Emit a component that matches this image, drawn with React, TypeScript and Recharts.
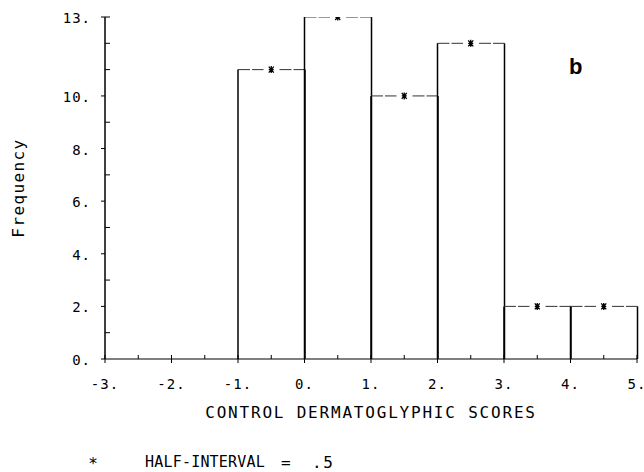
import React from "react";
import { Bar, ComposedChart, Scatter, XAxis, YAxis } from "recharts";

// histogram bins (left edge label) and frequencies
const binEdges = ["-3", "-2", "-1", "0", "1", "2", "3", "4"];
const binCounts = [0, 0, 11, 13, 10, 12, 2, 2];
const binMids = [-2.5, -1.5, -0.5, 0.5, 1.5, 2.5, 3.5, 4.5];

const xLabelTicks = [-3, -2, -1, 0, 1, 2, 3, 4, 5];
const xHalfTicks = [-2.5, -1.5, -0.5, 0.5, 1.5, 2.5, 3.5, 4.5];
const yLabelTicks = [0, 2, 4, 6, 8, 10, 13];
const yMinorTicks = [1, 3, 5, 7, 9, 11, 12];

const bins = binEdges.map((b, i) => ({ bin: b, count: binCounts[i] }));
const mids = binMids
  .map((m, i) => ({ mid: m, count: binCounts[i] }))
  .filter((d) => d.count > 0);

const FONT = "'DejaVu Sans Mono', monospace";

const BinShape = (props: any) => {
  const { x, y, width, height, payload } = props;
  if (!payload || payload.count === 0) return null;
  const cx = x + width / 2;
  return (
    <g>
      <line x1={x} y1={y} x2={x} y2={y + height} stroke="#000" strokeWidth={1.5} />
      <line x1={x + width} y1={y} x2={x + width} y2={y + height} stroke="#000" strokeWidth={1.5} />
      <line x1={x} y1={y} x2={cx - 8} y2={y} stroke="#333" strokeWidth={1} strokeDasharray="12 2" />
      <line x1={cx + 8} y1={y} x2={x + width} y2={y} stroke="#333" strokeWidth={1} strokeDasharray="12 2" />
    </g>
  );
};

const Star = (props: any) => {
  const { cx, cy } = props;
  return (
    <path
      d={`M${cx},${cy - 3.5}L${cx},${cy + 3.5}M${cx - 2.5},${cy - 3}L${cx + 2.5},${cy + 3}M${cx + 2.5},${cy - 3}L${cx - 2.5},${cy + 3}M${cx - 2.5},${cy}L${cx + 2.5},${cy}`}
      stroke="#000"
      strokeWidth={1.3}
      fill="none"
    />
  );
};

const YTick = (props: any) => {
  const { x, y, payload } = props;
  const v = payload.value;
  if (yMinorTicks.includes(v)) {
    return <line x1={x} y1={y} x2={x + 5} y2={y} stroke="#000" />;
  }
  return (
    <g>
      <line x1={x - 4} y1={y} x2={v === 13 ? x + 5 : x} y2={y} stroke="#000" />
      <text x={x - 14} y={y + 1} textAnchor="end" dominantBaseline="central" fontFamily={FONT} fontSize={14} letterSpacing={1} fill="#000">
        {`${v}.`}
      </text>
    </g>
  );
};

const XTick = (props: any) => {
  const { x, y, payload } = props;
  const v = payload.value;
  if (xHalfTicks.includes(v)) {
    return <line x1={x} y1={y - 4} x2={x} y2={y} stroke="#000" />;
  }
  return (
    <g>
      <line x1={x} y1={y - 4} x2={x} y2={y + 4} stroke="#000" />
      <text x={x} y={y + 25} textAnchor="middle" dominantBaseline="central" fontFamily={FONT} fontSize={14} letterSpacing={1} fill="#000">
        {`${v}.`}
      </text>
    </g>
  );
};

const allX = [...xLabelTicks, ...xHalfTicks].sort((a, b) => a - b);
const allY = [...yLabelTicks, ...yMinorTicks].sort((a, b) => a - b);

export default function App() {
  return (
    <div style={{ position: "absolute", left: 0, top: 0, width: 644, height: 472, background: "#fff" }}>
      <ComposedChart
        width={644}
        height={472}
        data={bins}
        margin={{ top: 17, right: 7, left: 45, bottom: 73 }}
        barCategoryGap={0}
        barGap={0}
      >
        <XAxis xAxisId="bins" dataKey="bin" type="category" hide height={0} orientation="top" />
        <XAxis
          xAxisId="num"
          dataKey="mid"
          type="number"
          domain={[-3, 5]}
          ticks={allX}
          interval={0}
          height={40}
          tickSize={0}
          tickMargin={0}
          tickLine={false}
          axisLine={{ stroke: "#000", strokeWidth: 1.2 }}
          tick={<XTick />}
          allowDataOverflow
        />
        <YAxis
          dataKey="count"
          type="number"
          domain={[0, 13]}
          ticks={allY}
          interval={0}
          width={60}
          tickSize={0}
          tickMargin={0}
          tickLine={false}
          axisLine={{ stroke: "#000", strokeWidth: 1.5 }}
          tick={<YTick />}
          allowDataOverflow
        />
        <Bar xAxisId="bins" dataKey="count" shape={<BinShape />} isAnimationActive={false} />
        <Scatter xAxisId="num" data={mids} dataKey="count" shape={<Star />} isAnimationActive={false} />
      </ComposedChart>
      <svg width={644} height={472} style={{ position: "absolute", left: 0, top: 0, pointerEvents: "none" }}>
        <text x={18} y={188} transform="rotate(-90 18 188)" textAnchor="middle" dominantBaseline="central" fontFamily={FONT} fontSize={16} letterSpacing={1.4} fill="#000">
          Frequency
        </text>
        <text x={371} y={412} textAnchor="middle" dominantBaseline="central" fontFamily={FONT} fontSize={16} letterSpacing={1.8} fill="#000">
          CONTROL DERMATOGLYPHIC SCORES
        </text>
        <text x={93} y={463} textAnchor="middle" dominantBaseline="central" fontFamily={FONT} fontSize={16} fill="#000">
          *
        </text>
        <text x={145} y={462} dominantBaseline="central" fontFamily={FONT} fontSize={15} letterSpacing={0.2} fill="#000">
          HALF-INTERVAL
        </text>
        <text x={281} y={462} dominantBaseline="central" fontFamily={FONT} fontSize={16} fill="#000">
          =
        </text>
        <text x={312} y={462} dominantBaseline="central" fontFamily={FONT} fontSize={16} letterSpacing={1.5} fill="#000">
          .5
        </text>
        <text x={569} y={74} fontFamily="'Liberation Sans', Arial, sans-serif" fontWeight="bold" fontSize={22} fill="#000">
          b
        </text>
      </svg>
    </div>
  );
}
